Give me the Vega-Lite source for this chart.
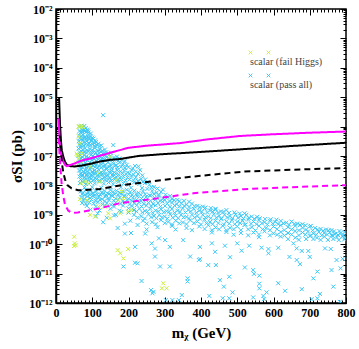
{
"$schema": "https://vega.github.io/schema/vega-lite/v6.json",
"width": 290, "height": 294,
"autosize": "none",
"padding": {"left": 56, "top": 9, "right": 13, "bottom": 46},
"background": "white",
"config": {"view": {"stroke": "black", "strokeWidth": 1.5}, "axis": {"grid": false, "domainColor": "black", "domainWidth": 1.5, "tickColor": "black", "labelFont": "Liberation Serif", "labelFontWeight": "bold", "labelFontSize": 12, "labelColor": "black", "titleFont": "Liberation Serif", "titleFontWeight": "bold", "titleFontSize": 15, "titleColor": "black", "labelOverlap": false, "labelFlush": false}},
"datasets": {
"pass": [
{"m":66,"s":1e-6},{"m":70,"s":1.07e-6},{"m":74,"s":9.5e-7},{"m":78,"s":1.05e-6},{"m":82,"s":8.9e-7},{"m":86,"s":7.9e-7},{"m":72,"s":7.6e-7},{"m":68,"s":6.3e-7},{"m":80,"s":7.1e-7},{"m":90,"s":6.3e-7},
{"m":65,"s":7.1e-7},{"m":71,"s":6.6e-7},{"m":76,"s":7.6e-7},{"m":84,"s":6.8e-7},{"m":89,"s":7.4e-7},{"m":96,"s":5.8e-7},
{"m":64,"s":5.0e-7},{"m":69,"s":4.7e-7},{"m":75,"s":5.2e-7},{"m":81,"s":4.5e-7},{"m":88,"s":5.0e-7},{"m":95,"s":4.7e-7},{"m":100,"s":4.2e-7},{"m":77,"s":4.0e-7},{"m":92,"s":3.8e-7},
{"m":66,"s":4.0e-7},{"m":72,"s":3.7e-7},{"m":78,"s":4.3e-7},{"m":84,"s":3.9e-7},{"m":90,"s":4.2e-7},{"m":97,"s":3.6e-7},{"m":103,"s":3.9e-7},{"m":108,"s":3.4e-7},
{"m":63,"s":3.2e-7},{"m":67,"s":2.8e-7},{"m":73,"s":3.3e-7},{"m":79,"s":3.0e-7},{"m":85,"s":3.2e-7},{"m":91,"s":2.75e-7},{"m":98,"s":3.2e-7},{"m":104,"s":2.8e-7},{"m":110,"s":3.0e-7},{"m":117,"s":2.6e-7},{"m":88,"s":2.4e-7},{"m":70,"s":2.2e-7},
{"m":65,"s":2.4e-7},{"m":71,"s":2.55e-7},{"m":76,"s":2.25e-7},{"m":82,"s":2.5e-7},{"m":94,"s":2.3e-7},{"m":101,"s":2.45e-7},{"m":107,"s":2.2e-7},{"m":113,"s":2.4e-7},{"m":120,"s":2.15e-7},{"m":125,"s":2.3e-7},
{"m":130,"s":2.45e-6},{"m":158,"s":2.35e-7},
{"m":62,"s":1.8e-7},{"m":68,"s":1.9e-7},{"m":74,"s":1.66e-7},{"m":80,"s":1.82e-7},{"m":86,"s":1.58e-7},{"m":93,"s":1.74e-7},{"m":100,"s":1.62e-7},{"m":107,"s":1.86e-7},{"m":114,"s":1.58e-7},{"m":121,"s":1.7e-7},{"m":128,"s":1.51e-7},{"m":135,"s":1.66e-7},{"m":77,"s":1.38e-7},{"m":97,"s":1.32e-7},{"m":118,"s":1.26e-7},
{"m":65,"s":1.35e-7},{"m":71,"s":1.4e-7},{"m":83,"s":1.3e-7},{"m":89,"s":1.42e-7},{"m":103,"s":1.35e-7},{"m":110,"s":1.28e-7},{"m":124,"s":1.38e-7},{"m":131,"s":1.25e-7},{"m":138,"s":1.33e-7},{"m":145,"s":1.2e-7},{"m":152,"s":1.28e-7},
{"m":62,"s":1e-7},{"m":67,"s":1.07e-7},{"m":72,"s":9.3e-8},{"m":78,"s":1.05e-7},{"m":84,"s":9.5e-8},{"m":90,"s":8.9e-8},{"m":96,"s":1.07e-7},{"m":102,"s":1e-7},{"m":108,"s":9.1e-8},{"m":114,"s":1.05e-7},{"m":120,"s":9.5e-8},{"m":127,"s":8.7e-8},{"m":134,"s":1.02e-7},{"m":141,"s":9.3e-8},{"m":150,"s":1e-7},{"m":160,"s":8.9e-8},{"m":168,"s":9.5e-8},{"m":175,"s":8.3e-8},
{"m":64,"s":7.6e-8},{"m":70,"s":8.1e-8},{"m":75,"s":7.2e-8},{"m":81,"s":7.8e-8},{"m":87,"s":7.1e-8},{"m":93,"s":8.0e-8},{"m":99,"s":7.4e-8},{"m":105,"s":7.9e-8},{"m":111,"s":7.0e-8},{"m":117,"s":7.7e-8},{"m":124,"s":7.3e-8},{"m":131,"s":8.1e-8},{"m":138,"s":7.1e-8},{"m":145,"s":7.7e-8},{"m":155,"s":7.2e-8},{"m":164,"s":7.8e-8},{"m":172,"s":6.9e-8},{"m":181,"s":7.3e-8},{"m":190,"s":6.6e-8},
{"m":63,"s":5.6e-8},{"m":69,"s":6.0e-8},{"m":75,"s":5.2e-8},{"m":81,"s":5.75e-8},{"m":87,"s":5.0e-8},{"m":93,"s":6.0e-8},{"m":99,"s":5.4e-8},{"m":105,"s":5.6e-8},{"m":111,"s":5.0e-8},{"m":117,"s":6.2e-8},{"m":123,"s":5.4e-8},{"m":129,"s":5.75e-8},{"m":136,"s":5.0e-8},{"m":143,"s":6.0e-8},{"m":150,"s":5.25e-8},{"m":158,"s":5.6e-8},{"m":166,"s":4.9e-8},{"m":175,"s":5.9e-8},{"m":185,"s":5.25e-8},{"m":195,"s":5.0e-8},{"m":227,"s":4.4e-8},{"m":209,"s":3.3e-8},{"m":232,"s":3.3e-8},
{"m":66,"s":4.3e-8},{"m":72,"s":4.1e-8},{"m":78,"s":4.5e-8},{"m":84,"s":4.0e-8},{"m":90,"s":4.4e-8},{"m":96,"s":4.1e-8},{"m":102,"s":4.6e-8},{"m":108,"s":4.2e-8},{"m":114,"s":4.0e-8},{"m":120,"s":4.5e-8},{"m":126,"s":4.1e-8},{"m":133,"s":4.4e-8},{"m":140,"s":3.9e-8},{"m":147,"s":4.3e-8},{"m":154,"s":4.0e-8},{"m":162,"s":4.5e-8},{"m":170,"s":4.1e-8},{"m":180,"s":4.3e-8},{"m":190,"s":3.9e-8},{"m":200,"s":4.2e-8},{"m":212,"s":3.8e-8},{"m":218,"s":4.6e-8},
{"m":64,"s":3.2e-8},{"m":70,"s":3.4e-8},{"m":76,"s":2.95e-8},{"m":82,"s":3.3e-8},{"m":88,"s":3.0e-8},{"m":94,"s":3.5e-8},{"m":100,"s":2.9e-8},{"m":106,"s":3.2e-8},{"m":112,"s":3.0e-8},{"m":118,"s":3.4e-8},{"m":125,"s":2.8e-8},{"m":132,"s":3.2e-8},{"m":139,"s":3.5e-8},{"m":146,"s":2.95e-8},{"m":153,"s":3.2e-8},{"m":161,"s":2.8e-8},{"m":169,"s":3.3e-8},{"m":178,"s":3.0e-8},{"m":188,"s":3.2e-8},{"m":198,"s":2.75e-8},{"m":220,"s":2.95e-8},
{"m":67,"s":2.5e-8},{"m":73,"s":2.35e-8},{"m":79,"s":2.6e-8},{"m":85,"s":2.4e-8},{"m":91,"s":2.55e-8},{"m":97,"s":2.3e-8},{"m":103,"s":2.6e-8},{"m":109,"s":2.45e-8},{"m":115,"s":2.3e-8},{"m":121,"s":2.6e-8},{"m":128,"s":2.4e-8},{"m":135,"s":2.5e-8},{"m":142,"s":2.3e-8},{"m":150,"s":2.6e-8},{"m":157,"s":2.4e-8},{"m":165,"s":2.5e-8},{"m":173,"s":2.3e-8},{"m":183,"s":2.55e-8},{"m":193,"s":2.4e-8},{"m":203,"s":2.5e-8},{"m":214,"s":2.3e-8},{"m":226,"s":2.45e-8},{"m":238,"s":2.2e-8},
{"m":65,"s":2.0e-8},{"m":72,"s":2.1e-8},{"m":79,"s":1.86e-8},{"m":86,"s":2.04e-8},{"m":93,"s":1.9e-8},{"m":100,"s":2.14e-8},{"m":108,"s":1.82e-8},{"m":116,"s":2.0e-8},{"m":124,"s":2.19e-8},{"m":132,"s":1.9e-8},{"m":140,"s":2.04e-8},{"m":148,"s":1.82e-8},{"m":157,"s":2.1e-8},{"m":166,"s":1.95e-8},{"m":176,"s":1.78e-8},{"m":186,"s":2.04e-8},{"m":197,"s":1.86e-8},{"m":208,"s":2.1e-8},{"m":220,"s":1.9e-8},{"m":235,"s":1.66e-8},{"m":246,"s":1.58e-8},
{"m":68,"s":1.58e-8},{"m":76,"s":1.5e-8},{"m":83,"s":1.62e-8},{"m":90,"s":1.52e-8},{"m":97,"s":1.65e-8},{"m":104,"s":1.5e-8},{"m":112,"s":1.6e-8},{"m":120,"s":1.48e-8},{"m":128,"s":1.62e-8},{"m":136,"s":1.52e-8},{"m":144,"s":1.58e-8},{"m":153,"s":1.46e-8},{"m":162,"s":1.6e-8},{"m":171,"s":1.5e-8},{"m":181,"s":1.58e-8},{"m":192,"s":1.48e-8},{"m":203,"s":1.6e-8},{"m":214,"s":1.5e-8},{"m":226,"s":1.42e-8},{"m":240,"s":1.3e-8},{"m":252,"s":1.26e-8},
{"m":66,"s":1.2e-8},{"m":74,"s":1.32e-8},{"m":83,"s":1.12e-8},{"m":95,"s":1.26e-8},{"m":107,"s":1.17e-8},{"m":119,"s":1.35e-8},{"m":132,"s":1.15e-8},{"m":145,"s":1.26e-8},{"m":158,"s":1.1e-8},{"m":172,"s":1.32e-8},{"m":186,"s":1.17e-8},{"m":200,"s":1.07e-8},{"m":215,"s":1.26e-8},{"m":230,"s":1.12e-8},{"m":245,"s":1.2e-8},{"m":258,"s":1.05e-8},{"m":270,"s":8.9e-9},
{"m":79,"s":8.5e-9},{"m":100,"s":8.7e-9},{"m":125,"s":8.3e-9},{"m":151,"s":8.5e-9},{"m":179,"s":8.6e-9},{"m":207,"s":8.3e-9},{"m":237,"s":8.1e-9},{"m":263,"s":8.5e-9},{"m":280,"s":7.8e-9},{"m":295,"s":7.2e-9},
{"m":68,"s":6.3e-9},{"m":75,"s":5.6e-9},{"m":82,"s":7.1e-9},{"m":89,"s":6.0e-9},{"m":96,"s":6.6e-9},{"m":103,"s":5.5e-9},{"m":110,"s":6.3e-9},{"m":118,"s":7.2e-9},{"m":126,"s":5.9e-9},{"m":134,"s":6.5e-9},{"m":142,"s":5.4e-9},{"m":150,"s":6.9e-9},{"m":158,"s":6.0e-9},{"m":167,"s":6.6e-9},{"m":176,"s":5.6e-9},{"m":185,"s":6.3e-9},{"m":195,"s":7.1e-9},{"m":205,"s":6.0e-9},{"m":216,"s":6.6e-9},{"m":228,"s":5.6e-9},{"m":240,"s":6.3e-9},{"m":252,"s":7.6e-9},{"m":265,"s":6.6e-9},{"m":278,"s":5.75e-9},{"m":290,"s":6.0e-9},
{"m":72,"s":5.0e-9},{"m":79,"s":4.7e-9},{"m":86,"s":5.2e-9},{"m":93,"s":4.8e-9},{"m":100,"s":5.3e-9},{"m":107,"s":4.6e-9},{"m":114,"s":5.0e-9},{"m":122,"s":4.8e-9},{"m":130,"s":5.2e-9},{"m":138,"s":4.7e-9},{"m":146,"s":5.1e-9},{"m":154,"s":4.6e-9},{"m":162,"s":5.0e-9},{"m":171,"s":4.8e-9},{"m":181,"s":5.2e-9},{"m":190,"s":4.6e-9},{"m":200,"s":5.0e-9},{"m":210,"s":4.7e-9},{"m":222,"s":5.1e-9},{"m":234,"s":4.8e-9},{"m":246,"s":5.0e-9},{"m":258,"s":4.6e-9},{"m":270,"s":5.1e-9},{"m":283,"s":4.7e-9},{"m":302,"s":4.8e-9},{"m":315,"s":4.4e-9},
{"m":70,"s":4.0e-9},{"m":78,"s":3.55e-9},{"m":86,"s":4.2e-9},{"m":94,"s":3.7e-9},{"m":102,"s":4.4e-9},{"m":110,"s":3.6e-9},{"m":118,"s":4.0e-9},{"m":127,"s":3.4e-9},{"m":136,"s":4.1e-9},{"m":145,"s":3.7e-9},{"m":155,"s":4.3e-9},{"m":165,"s":3.55e-9},{"m":176,"s":3.9e-9},{"m":188,"s":4.2e-9},{"m":200,"s":3.5e-9},{"m":212,"s":3.8e-9},{"m":224,"s":4.3e-9},{"m":236,"s":3.6e-9},{"m":248,"s":4.0e-9},{"m":260,"s":4.5e-9},{"m":272,"s":3.8e-9},{"m":284,"s":4.2e-9},{"m":296,"s":3.55e-9},{"m":308,"s":4.0e-9},{"m":320,"s":3.4e-9},{"m":335,"s":3.2e-9},
{"m":76,"s":3.16e-9},{"m":87,"s":3.0e-9},{"m":98,"s":3.3e-9},{"m":109,"s":3.0e-9},{"m":121,"s":3.2e-9},{"m":134,"s":2.95e-9},{"m":146,"s":3.25e-9},{"m":159,"s":3.0e-9},{"m":171,"s":3.2e-9},{"m":184,"s":2.95e-9},{"m":197,"s":3.2e-9},{"m":209,"s":3.0e-9},{"m":222,"s":3.25e-9},{"m":235,"s":2.95e-9},{"m":248,"s":3.2e-9},{"m":261,"s":3.0e-9},{"m":274,"s":3.25e-9},{"m":287,"s":3.0e-9},{"m":300,"s":3.2e-9},{"m":313,"s":2.95e-9},{"m":326,"s":3.15e-9},{"m":340,"s":2.9e-9},{"m":353,"s":3.0e-9},{"m":367,"s":2.8e-9},
{"m":72,"s":2.5e-9},{"m":82,"s":2.35e-9},{"m":92,"s":2.6e-9},{"m":104,"s":2.4e-9},{"m":115,"s":2.7e-9},{"m":128,"s":2.24e-9},{"m":140,"s":2.5e-9},{"m":152,"s":2.2e-9},{"m":165,"s":2.6e-9},{"m":178,"s":2.35e-9},{"m":190,"s":2.7e-9},{"m":203,"s":2.3e-9},{"m":216,"s":2.5e-9},{"m":229,"s":2.75e-9},{"m":242,"s":2.35e-9},{"m":255,"s":2.6e-9},{"m":268,"s":2.3e-9},{"m":281,"s":2.5e-9},{"m":294,"s":2.8e-9},{"m":307,"s":2.4e-9},{"m":320,"s":2.6e-9},{"m":333,"s":2.3e-9},{"m":346,"s":2.5e-9},{"m":360,"s":2.2e-9},{"m":375,"s":2.4e-9},{"m":390,"s":2.0e-9},{"m":405,"s":1.9e-9},
{"m":85,"s":2.0e-9},{"m":110,"s":1.9e-9},{"m":135,"s":2.05e-9},{"m":160,"s":1.9e-9},{"m":185,"s":2.05e-9},{"m":210,"s":1.95e-9},{"m":223,"s":2.1e-9},{"m":236,"s":1.9e-9},{"m":249,"s":2.05e-9},{"m":262,"s":1.95e-9},{"m":275,"s":2.1e-9},{"m":288,"s":1.9e-9},{"m":301,"s":2.0e-9},{"m":314,"s":1.85e-9},{"m":327,"s":2.05e-9},{"m":340,"s":1.9e-9},{"m":354,"s":2.0e-9},{"m":368,"s":1.85e-9},{"m":382,"s":1.95e-9},{"m":397,"s":1.8e-9},{"m":412,"s":1.75e-9},{"m":427,"s":1.7e-9},{"m":440,"s":1.6e-9},
{"m":95,"s":1.5e-9},{"m":120,"s":1.4e-9},{"m":150,"s":1.6e-9},{"m":175,"s":1.38e-9},{"m":200,"s":1.66e-9},{"m":215,"s":1.45e-9},{"m":230,"s":1.6e-9},{"m":245,"s":1.35e-9},{"m":260,"s":1.62e-9},{"m":275,"s":1.4e-9},{"m":290,"s":1.55e-9},{"m":305,"s":1.32e-9},{"m":320,"s":1.6e-9},{"m":335,"s":1.38e-9},{"m":350,"s":1.66e-9},{"m":365,"s":1.45e-9},{"m":380,"s":1.6e-9},{"m":395,"s":1.38e-9},{"m":410,"s":1.62e-9},{"m":425,"s":1.4e-9},{"m":440,"s":1.5e-9},{"m":455,"s":1.3e-9},{"m":470,"s":1.45e-9},
{"m":180,"s":1.26e-9},{"m":200,"s":1.2e-9},{"m":222,"s":1.3e-9},{"m":238,"s":1.2e-9},{"m":252,"s":1.28e-9},{"m":267,"s":1.18e-9},{"m":282,"s":1.3e-9},{"m":297,"s":1.22e-9},{"m":312,"s":1.28e-9},{"m":327,"s":1.18e-9},{"m":342,"s":1.27e-9},{"m":357,"s":1.2e-9},{"m":372,"s":1.3e-9},{"m":387,"s":1.18e-9},{"m":402,"s":1.26e-9},{"m":417,"s":1.2e-9},{"m":432,"s":1.28e-9},{"m":447,"s":1.18e-9},{"m":462,"s":1.25e-9},{"m":477,"s":1.15e-9},{"m":492,"s":1.2e-9},{"m":507,"s":1.1e-9},{"m":520,"s":1.12e-9},
{"m":110,"s":8.9e-10},{"m":160,"s":9.5e-10},{"m":215,"s":1e-9},{"m":235,"s":8.9e-10},{"m":255,"s":1.05e-9},{"m":270,"s":9.1e-10},{"m":285,"s":1e-9},{"m":300,"s":8.7e-10},{"m":315,"s":1.05e-9},{"m":330,"s":9.3e-10},{"m":345,"s":1e-9},{"m":360,"s":8.5e-10},{"m":375,"s":1.02e-9},{"m":390,"s":9.1e-10},{"m":405,"s":1e-9},{"m":420,"s":8.7e-10},{"m":435,"s":1.05e-9},{"m":450,"s":9.3e-10},{"m":465,"s":1e-9},{"m":480,"s":8.9e-10},{"m":495,"s":1.02e-9},{"m":510,"s":9.1e-10},{"m":525,"s":1e-9},{"m":540,"s":8.7e-10},{"m":555,"s":8.5e-10},
{"m":225,"s":7.9e-10},{"m":245,"s":7.5e-10},{"m":262,"s":8.2e-10},{"m":277,"s":7.6e-10},{"m":292,"s":8.1e-10},{"m":307,"s":7.4e-10},{"m":322,"s":8.0e-10},{"m":337,"s":7.6e-10},{"m":352,"s":8.2e-10},{"m":367,"s":7.5e-10},{"m":382,"s":8.0e-10},{"m":397,"s":7.4e-10},{"m":412,"s":8.1e-10},{"m":427,"s":7.6e-10},{"m":442,"s":8.0e-10},{"m":457,"s":7.5e-10},{"m":472,"s":8.1e-10},{"m":487,"s":7.6e-10},{"m":502,"s":7.9e-10},{"m":517,"s":7.4e-10},{"m":532,"s":7.8e-10},{"m":547,"s":7.3e-10},{"m":562,"s":7.6e-10},{"m":577,"s":7.2e-10},{"m":592,"s":7.0e-10},{"m":608,"s":6.8e-10},
{"m":240,"s":6.3e-10},{"m":265,"s":5.6e-10},{"m":290,"s":6.6e-10},{"m":310,"s":5.75e-10},{"m":330,"s":6.3e-10},{"m":350,"s":5.5e-10},{"m":370,"s":6.5e-10},{"m":390,"s":5.9e-10},{"m":410,"s":6.8e-10},{"m":425,"s":5.75e-10},{"m":440,"s":6.3e-10},{"m":455,"s":7.1e-10},{"m":470,"s":6.0e-10},{"m":485,"s":6.6e-10},{"m":500,"s":5.75e-10},{"m":515,"s":6.3e-10},{"m":530,"s":6.9e-10},{"m":545,"s":5.9e-10},{"m":560,"s":6.5e-10},{"m":575,"s":5.6e-10},{"m":590,"s":6.3e-10},{"m":605,"s":5.75e-10},{"m":620,"s":6.2e-10},{"m":635,"s":5.4e-10},{"m":650,"s":5.9e-10},{"m":665,"s":5.0e-10},{"m":680,"s":4.8e-10},
{"m":250,"s":5.0e-10},{"m":275,"s":4.8e-10},{"m":300,"s":5.2e-10},{"m":320,"s":4.7e-10},{"m":340,"s":5.1e-10},{"m":360,"s":4.8e-10},{"m":380,"s":5.2e-10},{"m":400,"s":4.7e-10},{"m":415,"s":5.1e-10},{"m":432,"s":4.8e-10},{"m":448,"s":5.2e-10},{"m":463,"s":4.7e-10},{"m":478,"s":5.0e-10},{"m":493,"s":4.8e-10},{"m":508,"s":5.2e-10},{"m":523,"s":4.7e-10},{"m":538,"s":5.0e-10},{"m":553,"s":4.8e-10},{"m":568,"s":5.1e-10},{"m":583,"s":4.7e-10},{"m":598,"s":5.0e-10},{"m":613,"s":4.8e-10},{"m":628,"s":5.1e-10},{"m":643,"s":4.6e-10},{"m":658,"s":4.9e-10},{"m":673,"s":4.5e-10},{"m":688,"s":4.4e-10},{"m":703,"s":4.2e-10},
{"m":280,"s":3.8e-10},{"m":320,"s":4.2e-10},{"m":360,"s":3.55e-10},{"m":395,"s":4.0e-10},{"m":420,"s":4.4e-10},{"m":440,"s":3.7e-10},{"m":460,"s":4.2e-10},{"m":480,"s":3.6e-10},{"m":500,"s":4.0e-10},{"m":520,"s":4.5e-10},{"m":540,"s":3.8e-10},{"m":560,"s":4.2e-10},{"m":580,"s":3.6e-10},{"m":600,"s":4.0e-10},{"m":620,"s":4.4e-10},{"m":640,"s":3.8e-10},{"m":660,"s":4.2e-10},{"m":680,"s":3.6e-10},{"m":700,"s":4.0e-10},{"m":715,"s":3.55e-10},{"m":730,"s":3.3e-10},{"m":745,"s":3.16e-10},{"m":760,"s":3.0e-10},
{"m":330,"s":3.16e-10},{"m":375,"s":3.0e-10},{"m":410,"s":3.3e-10},{"m":430,"s":3.0e-10},{"m":450,"s":3.2e-10},{"m":470,"s":3.0e-10},{"m":490,"s":3.25e-10},{"m":510,"s":3.0e-10},{"m":530,"s":3.2e-10},{"m":550,"s":2.95e-10},{"m":570,"s":3.2e-10},{"m":590,"s":3.0e-10},{"m":610,"s":3.25e-10},{"m":630,"s":3.0e-10},{"m":650,"s":3.2e-10},{"m":670,"s":2.95e-10},{"m":690,"s":3.15e-10},{"m":708,"s":2.95e-10},{"m":722,"s":3.1e-10},{"m":737,"s":2.85e-10},{"m":752,"s":2.95e-10},{"m":767,"s":2.75e-10},{"m":782,"s":2.8e-10},{"m":796,"s":2.6e-10},
{"m":430,"s":2.5e-10},{"m":470,"s":2.6e-10},{"m":510,"s":2.4e-10},{"m":545,"s":2.5e-10},{"m":575,"s":2.75e-10},{"m":600,"s":2.35e-10},{"m":620,"s":2.6e-10},{"m":640,"s":2.4e-10},{"m":660,"s":2.8e-10},{"m":680,"s":2.5e-10},{"m":695,"s":2.7e-10},{"m":710,"s":2.35e-10},{"m":725,"s":2.6e-10},{"m":740,"s":2.4e-10},{"m":755,"s":2.5e-10},{"m":770,"s":2.24e-10},{"m":785,"s":2.4e-10},{"m":795,"s":2.1e-10},
{"m":490,"s":2.1e-10},{"m":530,"s":2.0e-10},{"m":560,"s":2.15e-10},{"m":590,"s":2.0e-10},{"m":610,"s":2.1e-10},{"m":630,"s":1.98e-10},{"m":650,"s":2.12e-10},{"m":670,"s":2.0e-10},{"m":688,"s":2.1e-10},{"m":703,"s":1.98e-10},{"m":718,"s":2.1e-10},{"m":733,"s":2.0e-10},{"m":748,"s":2.12e-10},{"m":763,"s":1.95e-10},{"m":778,"s":2.05e-10},{"m":792,"s":1.95e-10},
{"m":560,"s":1.74e-10},{"m":620,"s":1.82e-10},{"m":660,"s":1.66e-10},{"m":700,"s":1.9e-10},{"m":720,"s":1.66e-10},{"m":740,"s":1.82e-10},{"m":760,"s":2.0e-10},{"m":775,"s":1.7e-10},{"m":790,"s":1.86e-10},{"m":798,"s":1.66e-10},{"m":690,"s":1.5e-10},{"m":750,"s":1.4e-10},
{"m":640,"s":1.48e-10},{"m":670,"s":1.42e-10},{"m":710,"s":1.5e-10},{"m":730,"s":1.4e-10},{"m":765,"s":1.5e-10},{"m":780,"s":1.38e-10},{"m":795,"s":1.45e-10},
{"m":115,"s":1.12e-9},{"m":140,"s":7.9e-10},{"m":165,"s":1e-9},{"m":190,"s":5.0e-10},{"m":205,"s":6.3e-10},{"m":225,"s":4.5e-10},{"m":250,"s":3.16e-10},{"m":170,"s":3.55e-10},{"m":130,"s":5.6e-10},
{"m":190,"s":2.3e-10},{"m":207,"s":2.4e-10},{"m":246,"s":2.3e-10},{"m":218,"s":8.1e-11},{"m":264,"s":1.07e-10},{"m":284,"s":1.58e-10},{"m":301,"s":1.38e-10},{"m":314,"s":8.1e-11},{"m":351,"s":1.38e-10},{"m":397,"s":8.1e-11},{"m":273,"s":3.8e-11},{"m":370,"s":3.8e-11},{"m":186,"s":1.74e-11},{"m":218,"s":2.34e-11},{"m":225,"s":2.24e-11},{"m":314,"s":1.74e-11},{"m":287,"s":1.74e-11},{"m":394,"s":2.9e-11},{"m":236,"s":5.6e-12},{"m":363,"s":6.9e-12},{"m":363,"s":5.4e-12},{"m":262,"s":2.75e-12},{"m":269,"s":2.4e-12},{"m":266,"s":2.14e-12},{"m":347,"s":1.86e-12},{"m":303,"s":1.26e-12},{"m":321,"s":1.26e-12},{"m":339,"s":1.26e-12},{"m":273,"s":7.1e-11},
{"m":430,"s":1.07e-10},{"m":466,"s":8.9e-11},{"m":500,"s":1.07e-10},{"m":533,"s":8.9e-11},{"m":567,"s":7.6e-11},{"m":586,"s":6.9e-11},{"m":613,"s":7.6e-11},{"m":655,"s":1.07e-10},{"m":664,"s":7.2e-11},{"m":678,"s":5.9e-11},{"m":696,"s":5.9e-11},{"m":742,"s":7.2e-11},{"m":758,"s":6.9e-11},{"m":439,"s":5.5e-11},{"m":512,"s":6.0e-11},{"m":586,"s":4.9e-11},{"m":480,"s":3.6e-11},{"m":644,"s":3.7e-11},{"m":664,"s":2.9e-11},{"m":700,"s":3.7e-11},{"m":774,"s":2.9e-11},{"m":791,"s":3.2e-11},{"m":420,"s":1.95e-11},{"m":441,"s":1.95e-11},{"m":521,"s":1.62e-11},{"m":544,"s":1.32e-11},{"m":546,"s":9.8e-12},{"m":673,"s":2.1e-11},{"m":721,"s":1.17e-11},{"m":760,"s":1.32e-11},{"m":785,"s":1.51e-11},{"m":452,"s":6.0e-12},{"m":478,"s":7.8e-12},{"m":561,"s":8.5e-12},{"m":710,"s":6.9e-12},{"m":463,"s":3.6e-12},{"m":561,"s":4.5e-12},{"m":561,"s":3.16e-12},{"m":613,"s":4.7e-12},{"m":765,"s":3.6e-12},{"m":487,"s":2.3e-12},{"m":581,"s":2.3e-12},{"m":632,"s":2.6e-12},{"m":678,"s":2.95e-12},{"m":423,"s":1.74e-12},{"m":460,"s":1.45e-12},{"m":478,"s":1.45e-12},{"m":544,"s":1.55e-12},{"m":572,"s":1.74e-12},{"m":574,"s":1.35e-12},{"m":705,"s":1.35e-12},{"m":721,"s":1.45e-12},{"m":728,"s":2.04e-12},{"m":783,"s":1.1e-12},{"m":397,"s":3.1e-11}
],
"fail": [
{"m":62,"s":1e-6},{"m":66,"s":1.0e-6},{"m":71,"s":1.05e-6},{"m":75,"s":9.5e-7},{"m":63,"s":4.6e-7},{"m":66,"s":2.7e-7},{"m":71,"s":1.23e-7},{"m":59,"s":1.07e-7},{"m":57,"s":1.2e-7},{"m":63,"s":8.3e-8},{"m":69,"s":6.5e-8},{"m":57,"s":5.6e-8},{"m":80,"s":1.35e-8},{"m":69,"s":1.17e-8},{"m":89,"s":1.17e-8},{"m":66,"s":3.4e-9},{"m":85,"s":3.16e-9},{"m":108,"s":8.7e-10},{"m":144,"s":1.12e-9},{"m":149,"s":7.6e-10},{"m":135,"s":1.9e-9},{"m":172,"s":3.16e-9},{"m":181,"s":6.2e-9},{"m":209,"s":1.45e-9},{"m":186,"s":3.6e-9},{"m":121,"s":1.35e-8},{"m":167,"s":1.51e-8},{"m":117,"s":2.57e-8},{"m":94,"s":4.4e-8},{"m":149,"s":9.5e-8},{"m":94,"s":1e-9},{"m":117,"s":1.9e-9},{"m":177,"s":1.12e-9},{"m":199,"s":1.3e-9},
{"m":50,"s":1.8e-10},{"m":52,"s":1.07e-10},{"m":54,"s":9.3e-11},{"m":50,"s":8.7e-11},{"m":170,"s":6.3e-11},{"m":177,"s":4.9e-11},{"m":199,"s":6.8e-11},{"m":186,"s":3.3e-11},{"m":292,"s":3.16e-12},{"m":305,"s":3.16e-12},{"m":296,"s":4.7e-12}
],
"lines": [
{"m":8.5,"s":1e-5,"k":"bs"},{"m":11,"s":1.26e-6,"k":"bs"},{"m":13.8,"s":3.1e-7,"k":"bs"},{"m":16,"s":1.58e-7,"k":"bs"},{"m":20,"s":9.5e-8,"k":"bs"},{"m":25,"s":6.3e-8,"k":"bs"},{"m":30,"s":5.0e-8,"k":"bs"},{"m":40,"s":4.5e-8,"k":"bs"},{"m":52,"s":4.4e-8,"k":"bs"},{"m":70,"s":4.7e-8,"k":"bs"},{"m":100,"s":5.6e-8,"k":"bs"},{"m":121,"s":6.5e-8,"k":"bs"},{"m":150,"s":7.4e-8,"k":"bs"},{"m":177,"s":7.9e-8,"k":"bs"},{"m":227,"s":1e-7,"k":"bs"},{"m":300,"s":1.17e-7,"k":"bs"},{"m":350,"s":1.26e-7,"k":"bs"},{"m":450,"s":1.51e-7,"k":"bs"},{"m":550,"s":1.82e-7,"k":"bs"},{"m":650,"s":2.19e-7,"k":"bs"},{"m":800,"s":2.82e-7,"k":"bs"},
{"m":6.4,"s":1.9e-6,"k":"ms"},{"m":9,"s":6.3e-7,"k":"ms"},{"m":11,"s":2.1e-7,"k":"ms"},{"m":15,"s":1e-7,"k":"ms"},{"m":20,"s":6.5e-8,"k":"ms"},{"m":25,"s":5.0e-8,"k":"ms"},{"m":30,"s":4.5e-8,"k":"ms"},{"m":40,"s":5.0e-8,"k":"ms"},{"m":48,"s":5.4e-8,"k":"ms"},{"m":70,"s":6.9e-8,"k":"ms"},{"m":89,"s":7.9e-8,"k":"ms"},{"m":121,"s":1.02e-7,"k":"ms"},{"m":167,"s":1.48e-7,"k":"ms"},{"m":200,"s":1.9e-7,"k":"ms"},{"m":250,"s":2.24e-7,"k":"ms"},{"m":300,"s":2.5e-7,"k":"ms"},{"m":342,"s":2.75e-7,"k":"ms"},{"m":420,"s":3.7e-7,"k":"ms"},{"m":508,"s":4.8e-7,"k":"ms"},{"m":600,"s":5.5e-7,"k":"ms"},{"m":700,"s":6.2e-7,"k":"ms"},{"m":800,"s":6.8e-7,"k":"ms"},
{"m":11,"s":5e-7,"k":"bd"},{"m":14,"s":1.26e-7,"k":"bd"},{"m":17,"s":5.0e-8,"k":"bd"},{"m":20,"s":2.8e-8,"k":"bd"},{"m":25,"s":1.58e-8,"k":"bd"},{"m":32,"s":1e-8,"k":"bd"},{"m":43,"s":7.9e-9,"k":"bd"},{"m":61,"s":6.9e-9,"k":"bd"},{"m":75,"s":6.9e-9,"k":"bd"},{"m":121,"s":7.6e-9,"k":"bd"},{"m":180,"s":1.02e-8,"k":"bd"},{"m":290,"s":1.51e-8,"k":"bd"},{"m":379,"s":2.0e-8,"k":"bd"},{"m":517,"s":2.95e-8,"k":"bd"},{"m":650,"s":3.4e-8,"k":"bd"},{"m":800,"s":3.9e-8,"k":"bd"},
{"m":7.4,"s":4.0e-7,"k":"md"},{"m":10,"s":1e-7,"k":"md"},{"m":15.6,"s":1.12e-8,"k":"md"},{"m":20,"s":4.5e-9,"k":"md"},{"m":25,"s":2.14e-9,"k":"md"},{"m":34,"s":1.38e-9,"k":"md"},{"m":43,"s":1.17e-9,"k":"md"},{"m":60,"s":1.2e-9,"k":"md"},{"m":75,"s":1.29e-9,"k":"md"},{"m":121,"s":1.66e-9,"k":"md"},{"m":177,"s":2.5e-9,"k":"md"},{"m":291,"s":3.8e-9,"k":"md"},{"m":379,"s":5.4e-9,"k":"md"},{"m":517,"s":7.4e-9,"k":"md"},{"m":650,"s":8.7e-9,"k":"md"},{"m":800,"s":1.02e-8,"k":"md"}
]
},
"resolve": {"axis": {"x": "independent", "y": "independent"}},
"layer": [
{
"data": {"name": "pass"},
"mark": {"type": "point", "shape": "M-1,-1L1,1M-1,1L1,-1", "filled": false, "size": 16, "strokeWidth": 1, "opacity": 1, "clip": true},
"encoding": {
"x": {"field": "m", "type": "quantitative", "scale": {"domain": [0, 800], "nice": false}, "title": "mᵪ (GeV)",
 "axis": {"orient": "bottom", "values": [0,10,20,30,40,50,60,70,80,90,100,110,120,130,140,150,160,170,180,190,200,210,220,230,240,250,260,270,280,290,300,310,320,330,340,350,360,370,380,390,400,410,420,430,440,450,460,470,480,490,500,510,520,530,540,550,560,570,580,590,600,610,620,630,640,650,660,670,680,690,700,710,720,730,740,750,760,770,780,790,800],
 "labelExpr": "datum.value % 100 == 0 ? datum.label : ''",
 "tickSize": {"condition": {"test": "datum.value % 100 == 0", "value": -6}, "value": -3},
 "labelPadding": 10, "titlePadding": 4}},
"y": {"field": "s", "type": "quantitative", "scale": {"type": "log", "domain": [1e-12, 1e-2], "nice": false}, "title": "σSI (pb)",
 "axis": {"orient": "left", "values": [1e-12,2e-12,3e-12,4e-12,5e-12,6e-12,7e-12,8e-12,9e-12,1e-11,2e-11,3e-11,4e-11,5e-11,6e-11,7e-11,8e-11,9e-11,1e-10,2e-10,3e-10,4e-10,5e-10,6e-10,7e-10,8e-10,9e-10,1e-9,2e-9,3e-9,4e-9,5e-9,6e-9,7e-9,8e-9,9e-9,1e-8,2e-8,3e-8,4e-8,5e-8,6e-8,7e-8,8e-8,9e-8,1e-7,2e-7,3e-7,4e-7,5e-7,6e-7,7e-7,8e-7,9e-7,1e-6,2e-6,3e-6,4e-6,5e-6,6e-6,7e-6,8e-6,9e-6,1e-5,2e-5,3e-5,4e-5,5e-5,6e-5,7e-5,8e-5,9e-5,1e-4,2e-4,3e-4,4e-4,5e-4,6e-4,7e-4,8e-4,9e-4,1e-3,2e-3,3e-3,4e-3,5e-3,6e-3,7e-3,8e-3,9e-3,1e-2],
 "labelExpr": "abs(log(datum.value)/LN10 - round(log(datum.value)/LN10)) < 0.001 ? ['10⁻¹²','10⁻¹¹','10⁻¹⁰','10⁻⁹','10⁻⁸','10⁻⁷','10⁻⁶','10⁻⁵','10⁻⁴','10⁻³','10⁻²'][round(log(datum.value)/LN10)+12] : ''",
 "tickSize": {"condition": {"test": "abs(log(datum.value)/LN10 - round(log(datum.value)/LN10)) < 0.001", "value": -6}, "value": -3},
 "labelPadding": 10, "titlePadding": 4}},
"color": {"datum": "scalar (pass all)", "type": "nominal", "scale": {"domain": ["scalar (fail Higgs)", "scalar (pass all)"], "range": ["#c8f03c", "#3cc8f5"]},
 "legend": {"title": null, "orient": "none", "legendX": 193, "legendY": 42, "padding": 0, "symbolType": "M-1.08,-1.08L-0.72,-0.72M-1.08,-0.72L-0.72,-1.08M0.72,-1.08L1.08,-0.72M0.72,-0.72L1.08,-1.08", "symbolSize": 400, "symbolStrokeWidth": 1, "labelOffset": -20, "labelFont": "Liberation Serif", "labelFontSize": 10, "labelColor": "#444", "rowPadding": 4}}
}
},
{
"data": {"name": "fail"},
"mark": {"type": "point", "shape": "M-1,-1L1,1M-1,1L1,-1", "filled": false, "size": 16, "strokeWidth": 1, "opacity": 1, "clip": true},
"encoding": {
"x": {"field": "m", "type": "quantitative", "axis": null},
"y": {"field": "s", "type": "quantitative", "axis": null},
"color": {"datum": "scalar (fail Higgs)", "type": "nominal"}
}
},
{
"data": {"name": "lines"},
"mark": {"type": "line", "strokeWidth": 2, "clip": true},
"encoding": {
"x": {"field": "m", "type": "quantitative", "axis": {"orient": "top", "labels": false, "title": null, "domain": false, "values": [0,10,20,30,40,50,60,70,80,90,100,110,120,130,140,150,160,170,180,190,200,210,220,230,240,250,260,270,280,290,300,310,320,330,340,350,360,370,380,390,400,410,420,430,440,450,460,470,480,490,500,510,520,530,540,550,560,570,580,590,600,610,620,630,640,650,660,670,680,690,700,710,720,730,740,750,760,770,780,790,800], "tickSize": {"condition": {"test": "datum.value % 100 == 0", "value": -6}, "value": -3}}},
"y": {"field": "s", "type": "quantitative", "axis": {"orient": "right", "labels": false, "title": null, "domain": false, "values": [1e-12,2e-12,3e-12,4e-12,5e-12,6e-12,7e-12,8e-12,9e-12,1e-11,2e-11,3e-11,4e-11,5e-11,6e-11,7e-11,8e-11,9e-11,1e-10,2e-10,3e-10,4e-10,5e-10,6e-10,7e-10,8e-10,9e-10,1e-9,2e-9,3e-9,4e-9,5e-9,6e-9,7e-9,8e-9,9e-9,1e-8,2e-8,3e-8,4e-8,5e-8,6e-8,7e-8,8e-8,9e-8,1e-7,2e-7,3e-7,4e-7,5e-7,6e-7,7e-7,8e-7,9e-7,1e-6,2e-6,3e-6,4e-6,5e-6,6e-6,7e-6,8e-6,9e-6,1e-5,2e-5,3e-5,4e-5,5e-5,6e-5,7e-5,8e-5,9e-5,1e-4,2e-4,3e-4,4e-4,5e-4,6e-4,7e-4,8e-4,9e-4,1e-3,2e-3,3e-3,4e-3,5e-3,6e-3,7e-3,8e-3,9e-3,1e-2], "tickSize": {"condition": {"test": "abs(log(datum.value)/LN10 - round(log(datum.value)/LN10)) < 0.001", "value": -6}, "value": -3}}},
"stroke": {"field": "k", "type": "nominal", "scale": {"domain": ["ms", "bs", "bd", "md"], "range": ["#ff00ff", "#000000", "#000000", "#ff00ff"]}, "legend": null},
"strokeDash": {"field": "k", "type": "nominal", "scale": {"domain": ["ms", "bs", "bd", "md"], "range": [[1, 0], [1, 0], [6, 4], [6, 4]]}, "legend": null}
}
}
]
}
